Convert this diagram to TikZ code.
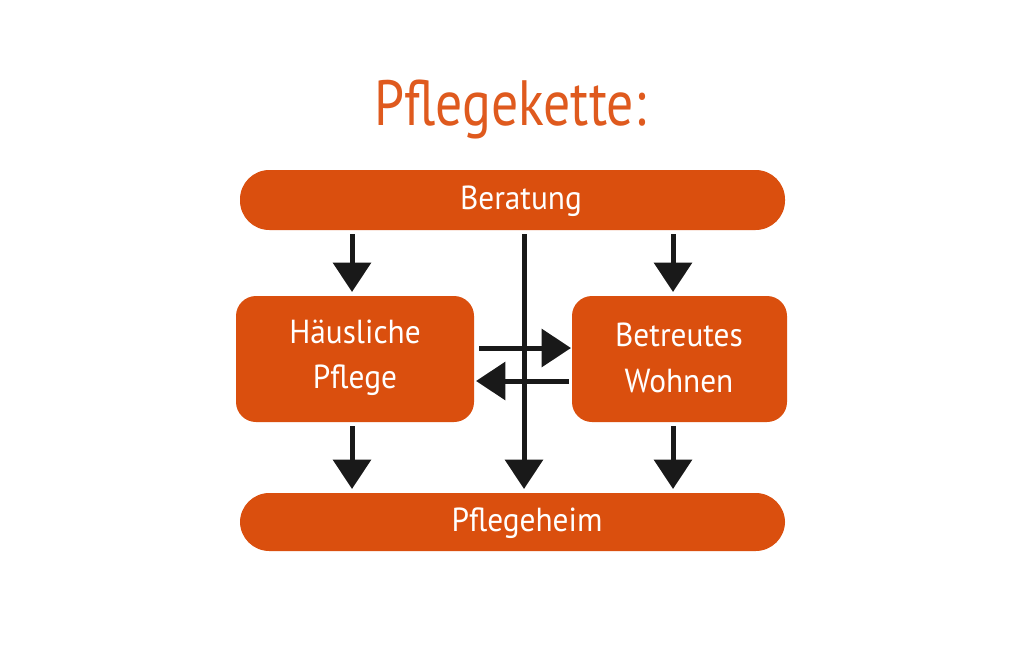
\documentclass[tikz,border=0pt]{standalone}
\usepackage{fontspec}
\setmainfont[FakeStretch=0.94]{PT Sans}
\newfontfamily\titlefont[FakeStretch=0.84]{PT Sans}
\usetikzlibrary{arrows.meta}
\definecolor{orng}{HTML}{DA4F0E}
\definecolor{ttl}{HTML}{DF5A1E}
\begin{document}
\begin{tikzpicture}[x=0.75pt,y=-0.75pt,
  bar/.style={fill=orng,rounded corners=22pt},
  boxx/.style={fill=orng,rounded corners=15pt},
  lbl/.style={text=white,font=\fontsize{25}{34}\selectfont,align=center},
  arr/.style={line width=3.75pt,-{Triangle[width=28pt,length=22pt]},black!90}]
\useasboundingbox[fill=white] (0,0) rectangle (1024,653);
\node[text=ttl,font=\titlefont\fontsize{48}{56}\selectfont,anchor=base] (title) at (510,125) {Pflegekette:};
\path[bar] (240,170) rectangle (785,230);
\node[lbl] (ber) at (521,201) {Beratung};
\path[bar] (240,493) rectangle (785,551);
\node[lbl] (heim) at (527,523) {Pflegeheim};
\path[boxx] (236,296) rectangle (474,422);
\node[lbl] (hp) at (355,358) {Häusliche\\Pflege};
\path[boxx] (572,296) rectangle (787,422);
\node[lbl] (bw) at (679,358) {Betreutes\\Wohnen};
% coordinates for connectors
\coordinate (b1) at (352,234);
\coordinate (b2) at (673,234);
\coordinate (b3) at (524,234);
\coordinate (h1) at (352,292);
\coordinate (h2) at (673,292);
\coordinate (p1) at (352,489);
\coordinate (p2) at (673,489);
\coordinate (p3) at (524,489);
\coordinate (l1) at (352,426);
\coordinate (l2) at (673,426);
\coordinate (hr1) at (479,348);
\coordinate (hr2) at (571,348);
\coordinate (hl1) at (569,381);
\coordinate (hl2) at (476,381);
\draw[arr] (b1) -- (h1);
\draw[arr] (b2) -- (h2);
\draw[arr] (l1) -- (p1);
\draw[arr] (l2) -- (p2);
\draw[arr] (hr1) -- (hr2);
\draw[arr] (hl1) -- (hl2);
\draw[arr] (b3) -- (p3);
\end{tikzpicture}
\end{document}
